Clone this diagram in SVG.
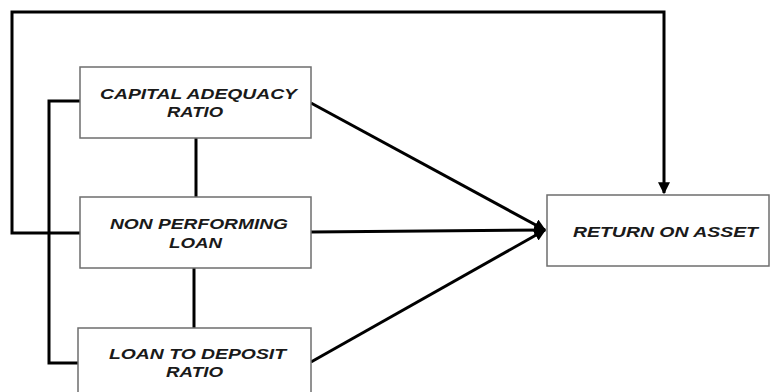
<svg xmlns="http://www.w3.org/2000/svg" width="770" height="392" viewBox="0 0 770 392">
<defs>
<style>
.box{fill:#ffffff;stroke:#6e6e6e;stroke-width:1.5}
.lbl{font-family:"Liberation Sans",Arial,sans-serif;font-weight:bold;font-style:italic;font-size:15px;fill:#1a1a1a}
.con{fill:none;stroke:#000;stroke-width:3;stroke-linejoin:miter}
</style>
<marker id="ah" viewBox="0 0 10 10" refX="9" refY="5" markerWidth="4" markerHeight="4" orient="auto" markerUnits="strokeWidth">
<path d="M0,0 L10,5 L0,10 z" fill="#000"/>
</marker>
</defs>
<rect width="770" height="392" fill="#fff"/>
<g id="connectors">
<polyline class="con" points="80,233 12,233 12,12 664,12 664,193" marker-end="url(#ah)"/>
<polyline class="con" points="80,101 49,101 49,363 78,363"/>
<line class="con" x1="196" y1="138" x2="196" y2="197"/>
<line class="con" x1="194" y1="268" x2="194" y2="328"/>
<line class="con" x1="311" y1="103" x2="545" y2="230" marker-end="url(#ah)"/>
<line class="con" x1="311" y1="232" x2="545" y2="230" marker-end="url(#ah)"/>
<line class="con" x1="311" y1="362" x2="545" y2="230" marker-end="url(#ah)"/>
</g>
<g id="car">
<rect class="box" x="80" y="67" width="231" height="71"/>
<text class="lbl" x="100" y="99" textLength="197" lengthAdjust="spacingAndGlyphs">CAPITAL ADEQUACY</text>
<text class="lbl" x="167" y="117" textLength="56" lengthAdjust="spacingAndGlyphs">RATIO</text>
</g>
<g id="npl">
<rect class="box" x="80" y="197" width="231" height="71"/>
<text class="lbl" x="110" y="229" textLength="178" lengthAdjust="spacingAndGlyphs">NON PERFORMING</text>
<text class="lbl" x="169" y="248" textLength="53" lengthAdjust="spacingAndGlyphs">LOAN</text>
</g>
<g id="ldr">
<rect class="box" x="78" y="328" width="233" height="72"/>
<text class="lbl" x="109" y="359" textLength="177" lengthAdjust="spacingAndGlyphs">LOAN TO DEPOSIT</text>
<text class="lbl" x="166" y="377" textLength="57" lengthAdjust="spacingAndGlyphs">RATIO</text>
</g>
<g id="roa">
<rect class="box" x="547" y="195" width="222" height="71"/>
<text class="lbl" x="573" y="237" textLength="185" lengthAdjust="spacingAndGlyphs">RETURN ON ASSET</text>
</g>
</svg>
